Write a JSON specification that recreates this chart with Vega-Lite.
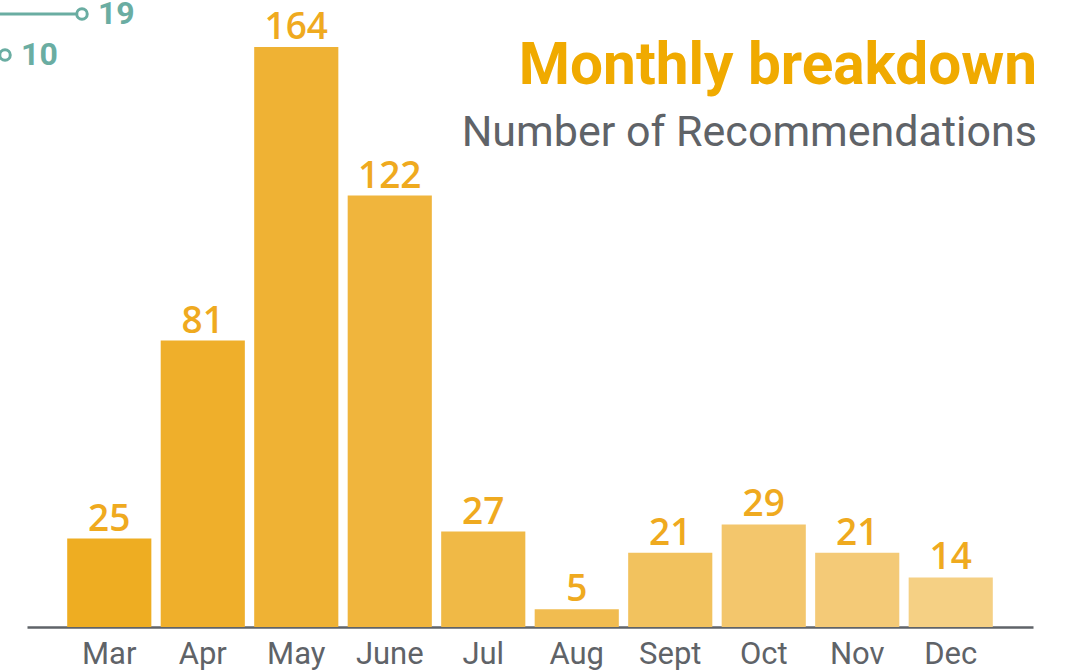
{
  "$schema": "https://vega.github.io/schema/vega-lite/v6.json",
  "width": 1006,
  "height": 626,
  "autosize": "none",
  "padding": {"left": 27, "top": 1, "right": 32, "bottom": 44},
  "background": "white",
  "config": {"view": {"stroke": null}},
  "title": {
    "text": "Monthly breakdown",
    "subtitle": "Number of Recommendations",
    "anchor": "end",
    "frame": "group",
    "orient": "top",
    "font": "Roboto",
    "fontSize": 58.5,
    "fontWeight": "bold",
    "color": "#F0AA00",
    "subtitleFont": "Roboto",
    "subtitleFontSize": 43,
    "subtitleFontWeight": "normal",
    "subtitleColor": "#5F6368",
    "subtitlePadding": 16,
    "offset": -158,
    "dx": 4
  },
  "resolve": {"scale": {"x": "independent", "y": "independent", "color": "independent"}},
  "layer": [
    {
      "data": {
        "values": [
          {"month": "Mar", "count": 25},
          {"month": "Apr", "count": 81},
          {"month": "May", "count": 164},
          {"month": "June", "count": 122},
          {"month": "Jul", "count": 27},
          {"month": "Aug", "count": 5},
          {"month": "Sept", "count": 21},
          {"month": "Oct", "count": 29},
          {"month": "Nov", "count": 21},
          {"month": "Dec", "count": 14}
        ]
      },
      "encoding": {
        "x": {
          "field": "month",
          "type": "ordinal",
          "sort": null,
          "scale": {"paddingInner": 0.1, "paddingOuter": 0.43},
          "axis": {
            "title": null,
            "labelAngle": 0,
            "labelFont": "Roboto",
            "labelFontSize": 31,
            "labelColor": "#5F6368",
            "labelPadding": 12,
            "ticks": false,
            "domainColor": "#5F6368",
            "domainWidth": 2.5
          }
        },
        "y": {
          "field": "count",
          "type": "quantitative",
          "scale": {"domain": [0, 177], "nice": false},
          "axis": null
        }
      },
      "layer": [
        {
          "mark": {"type": "bar"},
          "encoding": {
            "color": {
              "field": "month",
              "type": "nominal",
              "legend": null,
              "scale": {
                "domain": ["Mar", "Apr", "May", "June", "Jul", "Aug", "Sept", "Oct", "Nov", "Dec"],
                "range": ["#EEAD22", "#EFAF2B", "#EFB234", "#F0B53D", "#F0B946", "#F1BC50", "#F2C25E", "#F3C66C", "#F4CA77", "#F5D084"]
              }
            }
          }
        },
        {
          "mark": {
            "type": "text",
            "baseline": "alphabetic",
            "dy": -8,
            "font": "Open Sans",
            "fontSize": 37,
            "fontWeight": 600,
            "color": "#EFAA1F"
          },
          "encoding": {"text": {"field": "count", "type": "quantitative"}}
        }
      ]
    },
    {
      "data": {"values": [{"item": "a", "n": 19}, {"item": "b", "n": 10}]},
      "encoding": {
        "x": {"field": "n", "type": "quantitative", "scale": {"domain": [12.57, 130.2], "nice": false, "zero": false}, "axis": null},
        "y": {
          "field": "item",
          "type": "ordinal",
          "scale": {"type": "point", "range": [13, 54], "padding": 0},
          "axis": null
        }
      },
      "layer": [
        {
          "mark": {"type": "rule", "color": "#6AADA2", "strokeWidth": 3},
          "encoding": {
            "x2": {"datum": 0}
          }
        },
        {
          "mark": {"type": "point", "shape": "circle", "filled": true, "fill": "white", "stroke": "#6AADA2", "strokeWidth": 3, "size": 110, "opacity": 1},
          "encoding": {}
        },
        {
          "mark": {"type": "text", "align": "left", "baseline": "middle", "dx": 16, "font": "Roboto", "fontWeight": "bold", "fontSize": 32, "color": "#6AADA2"},
          "encoding": {
            "text": {"field": "n", "type": "quantitative"}
          }
        }
      ]
    }
  ]
}
